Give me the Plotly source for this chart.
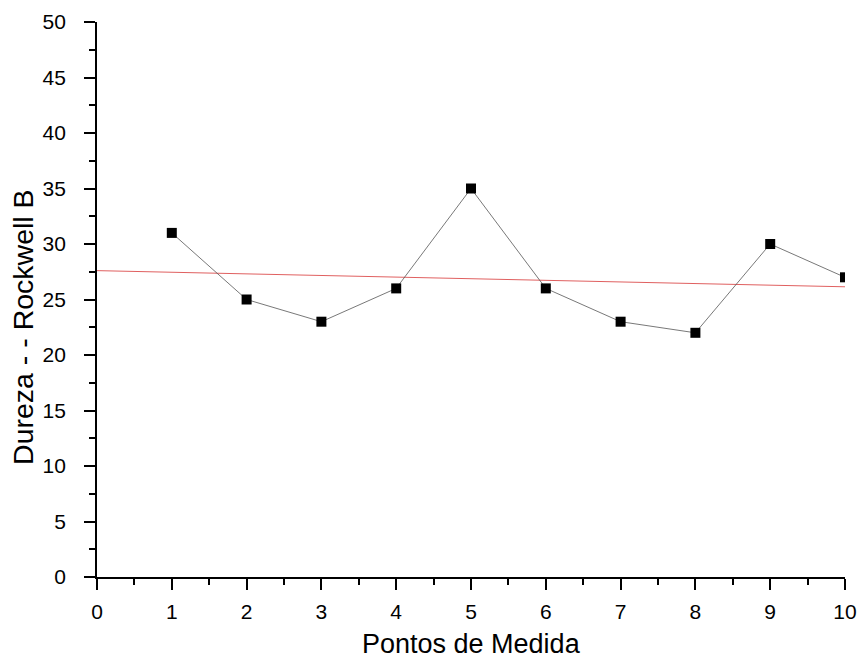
import numpy as np
import plotly.graph_objects as go

# Hardness measurements (Rockwell B) at each measuring point
pontos = [1, 2, 3, 4, 5, 6, 7, 8, 9, 10]
dureza = [31, 25, 23, 26, 35, 26, 23, 22, 30, 27]

x_ticks = list(range(0, 11))
y_ticks = list(range(0, 51, 5))

# Linear fit across the full x range
slope, intercept = np.polyfit(pontos, dureza, 1)
fit_x = [0, 10]
fit_y = [intercept + slope * v for v in fit_x]

font_family = "Liberation Sans, Arial, sans-serif"

fig = go.Figure()
fig.add_trace(go.Scatter(
    x=fit_x, y=fit_y, mode="lines",
    line=dict(color="#e06060", width=1),
    showlegend=False, cliponaxis=True,
))
fig.add_trace(go.Scatter(
    x=pontos, y=dureza, mode="lines+markers",
    line=dict(color="#555555", width=0.8),
    marker=dict(symbol="square", size=10, color="black"),
    showlegend=False, cliponaxis=True,
))

axis_common = dict(
    showgrid=False, zeroline=False, automargin=False,
    showline=True, linecolor="black", linewidth=1.8,
    ticks="outside", ticklen=11, tickwidth=1.8, tickcolor="black",
    tickfont=dict(family=font_family, size=21, color="black"),
    mirror=False,
)

fig.update_layout(
    width=861, height=662,
    margin=dict(l=97, r=16, t=22, b=85),
    plot_bgcolor="white", paper_bgcolor="white",
    xaxis=dict(
        range=[0, 10], tickvals=x_ticks, ticktext=[str(v) for v in x_ticks],
        minor=dict(dtick=0.5, ticks="outside", ticklen=6, tickwidth=1.8, tickcolor="black"),
        ticklabelstandoff=4,
        **axis_common,
    ),
    yaxis=dict(
        range=[0, 50], tickvals=y_ticks, ticktext=[str(v) for v in y_ticks],
        minor=dict(dtick=2.5, ticks="outside", ticklen=6, tickwidth=1.8, tickcolor="black"),
        ticklabelstandoff=14,
        **axis_common,
    ),
    annotations=[
        dict(
            text="Pontos de Medida",
            xref="paper", yref="paper", x=0.5, y=-0.121,
            xanchor="center", yanchor="middle", showarrow=False,
            font=dict(family=font_family, size=27, color="black"),
        ),
        dict(
            text="Dureza - - Rockwell B", textangle=-90,
            xref="paper", yref="paper", x=-0.098, y=0.45,
            xanchor="center", yanchor="middle", showarrow=False,
            font=dict(family=font_family, size=28.5, color="black"),
        ),
    ],
)

fig.write_html("out.html")
